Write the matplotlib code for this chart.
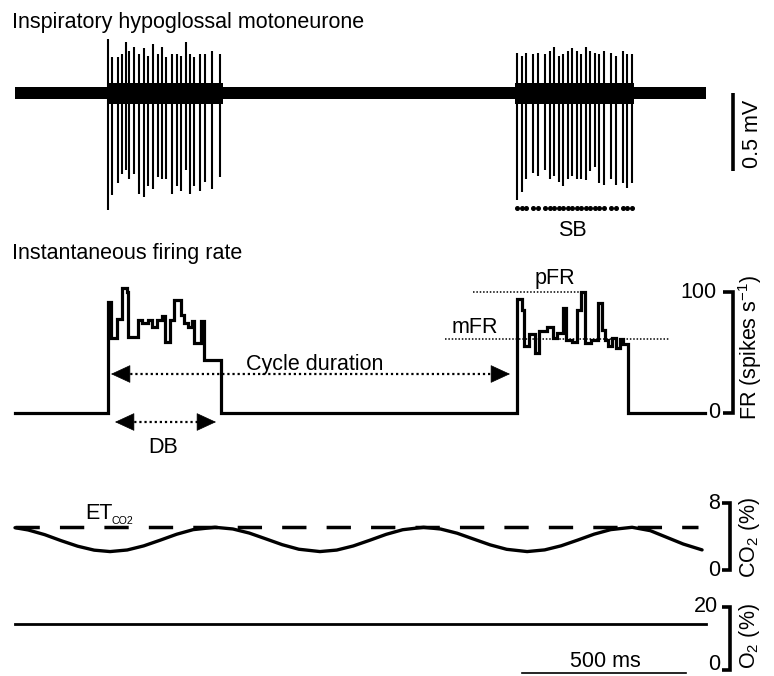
import matplotlib.pyplot as plt
import numpy as np

plt.rcParams['font.family'] = ['Liberation Sans', 'DejaVu Sans']
plt.rcParams['mathtext.fontset'] = 'custom'
plt.rcParams['mathtext.rm'] = 'Liberation Sans'
plt.rcParams['mathtext.it'] = 'Liberation Sans:italic'
FS = 15.5

# ---- raw hypoglossal recording (ms, mV) ----
spk1_t = [283, 295, 311, 323, 335, 345, 362, 376, 390, 404, 418, 432,
          446, 459, 477, 491, 503, 517, 529, 543, 562, 576, 596, 622]
spk1_up = [0.36, 0.24, 0.24, 0.26, 0.34, 0.28, 0.31, 0.26, 0.30, 0.25, 0.33, 0.26,
           0.31, 0.24, 0.26, 0.26, 0.25, 0.34, 0.26, 0.24, 0.26, 0.26, 0.28, 0.26]
spk1_dn = [-0.78, -0.68, -0.60, -0.54, -0.51, -0.57, -0.54, -0.67, -0.69, -0.62, -0.64, -0.56,
           -0.57, -0.57, -0.67, -0.62, -0.65, -0.51, -0.67, -0.62, -0.65, -0.59, -0.64, -0.56]
spk2_t = [1521, 1535, 1549, 1571, 1584, 1606, 1620, 1634, 1647, 1661, 1675, 1688,
          1702, 1716, 1730, 1743, 1757, 1771, 1785, 1806, 1820, 1842, 1856, 1869]
spk2_up = [0.27, 0.25, 0.27, 0.26, 0.27, 0.26, 0.28, 0.31, 0.25, 0.26, 0.28, 0.30,
           0.28, 0.26, 0.31, 0.28, 0.27, 0.26, 0.28, 0.27, 0.25, 0.28, 0.26, 0.26]
spk2_dn = [-0.71, -0.66, -0.57, -0.53, -0.55, -0.51, -0.57, -0.55, -0.59, -0.62, -0.57, -0.55,
           -0.57, -0.57, -0.58, -0.52, -0.49, -0.60, -0.61, -0.57, -0.61, -0.60, -0.63, -0.60]
noise_t = [0, 280, 630, 1515, 1875, 2094]
noise_w = [0.042, 0.07, 0.042, 0.07, 0.042, 0.042]

# ---- instantaneous firing rate (ms, spikes/s) ----
fr1_t = [283, 291, 308, 323, 338, 343, 374, 384, 404, 414, 429, 444,
         455, 470, 483, 503, 513, 523, 535, 543, 564, 574, 624]
fr1_v = [92, 62, 78, 103, 100, 63, 77, 74, 77, 71, 77, 80,
         59, 77, 93, 81, 74, 71, 76, 58, 76, 44, 0]
fr2_t = [1522, 1535, 1542, 1558, 1576, 1589, 1611, 1629, 1641, 1660, 1670, 1687,
         1703, 1715, 1727, 1745, 1766, 1778, 1788, 1798, 1808, 1821, 1833, 1843, 1858]
fr2_v = [94, 85, 55, 65, 50, 68, 71, 62, 66, 87, 60, 59,
         85, 100, 58, 60, 91, 69, 60, 55, 62, 54, 61, 57, 0]
fr_end = 2091
pfr = 100
mfr = 61

# ---- gases (ms, %) ----
co2_t = [0, 40, 90, 140, 190, 240, 288, 340, 390, 440, 490, 540, 606,
         660, 710, 760, 810, 860, 924, 975, 1025, 1075, 1125, 1175, 1238,
         1290, 1340, 1390, 1440, 1490, 1552, 1605, 1655, 1705, 1755, 1805, 1870,
         1925, 1975, 2025, 2082]
co2_v = [5.05, 4.78, 4.22, 3.50, 2.84, 2.37, 2.20, 2.39, 2.88, 3.56, 4.27, 4.82, 5.10,
         4.90, 4.41, 3.72, 3.02, 2.48, 2.20, 2.38, 2.87, 3.55, 4.26, 4.81, 5.10,
         4.89, 4.39, 3.69, 3.00, 2.47, 2.20, 2.40, 2.89, 3.57, 4.28, 4.82, 5.10,
         4.70, 3.90, 3.10, 2.40]
et_co2 = 5.1
o2_level = 14.7
trace_end = 2094

# ---- layout helpers (pixel -> data) ----
W, H = 774, 676
MS_PER_PX = 500 / 165.0
X0 = 15

fig = plt.figure(figsize=(W / 100, H / 100), dpi=100)


def t(px):
    return (px - X0) * MS_PER_PX


def panel(top, bot, va, pya, vb, pyb):
    ax = fig.add_axes([0, 1 - bot / H, 1, (bot - top) / H])
    ax.set_xlim(t(0), t(W))
    k = (vb - va) / (pya - pyb)
    ax.set_ylim(va - (bot - pya) * k, va + (pya - top) * k)
    ax.axis('off')
    return ax, k


def yv(py, va, pya, k):
    return va + (pya - py) * k


def ftext(px, py, s, **kw):
    kw.setdefault('fontsize', FS)
    fig.text(px / W, 1 - py / H, s, **kw)


def bracket(ax, xpx, lo, hi, tick=10):
    x, xt = t(xpx), t(xpx - tick)
    ax.plot([xt, x, x, xt], [hi, hi, lo, lo], color='k', lw=2.6,
            solid_joinstyle='miter', solid_capstyle='butt', clip_on=False)


def head(ax, tip, y, direction):
    ax.annotate('', xy=(tip, y), xytext=(tip + direction * 55, y),
                arrowprops=dict(arrowstyle='-|>,head_length=0.65,head_width=0.3',
                                mutation_scale=20, fc='k', ec='k', lw=0.5,
                                shrinkA=0, shrinkB=0))


# raw trace
ax1, k1 = panel(0, 240, 0, 93, 0.5, 18)
ax1.fill_between(noise_t, [-w for w in noise_w], noise_w, step='post', color='k', lw=0)
ax1.vlines(spk1_t, spk1_dn, spk1_up, color='k', lw=1.5)
ax1.vlines(spk2_t, spk2_dn, spk2_up, color='k', lw=1.5)
ax1.plot(spk2_t, [yv(208, 0, 93, k1)] * len(spk2_t), 'o', color='k', ms=2.6, clip_on=False)
ax1.text(t(572), yv(236, 0, 93, k1), 'SB', ha='center', va='baseline', fontsize=FS)
ax1.plot([t(733), t(733)], [0, -0.52], color='k', lw=2.6, solid_capstyle='butt')
ax1.text(t(753), -0.27, '0.5 mV', rotation=90, ha='center', va='center', fontsize=FS)
ftext(12, 28, 'Inspiratory hypoglossal motoneurone', va='baseline')

# firing rate
ax2, k2 = panel(240, 480, 0, 413, 100, 292)
fr_t = [0] + fr1_t + fr2_t + [fr_end]
fr_v = [0] + fr1_v + fr2_v + [0]
ax2.step(fr_t, fr_v, where='post', color='k', lw=2.3, solid_joinstyle='miter')
ax2.plot([t(473), t(582)], [pfr, pfr], color='k', lw=1.1, ls=(0, (1, 1.2)))
ax2.plot([t(445), t(670)], [mfr, mfr], color='k', lw=1.1, ls=(0, (1, 1.2)))
ax2.text(t(555), yv(284, 0, 413, k2), 'pFR', ha='center', va='baseline', fontsize=FS)
ax2.text(t(475), yv(333, 0, 413, k2), 'mFR', ha='center', va='baseline', fontsize=FS)

y_cyc = yv(374, 0, 413, k2)
ax2.plot([t(120), t(500)], [y_cyc, y_cyc], color='k', lw=1.6, ls=(0, (1, 1.3)))
head(ax2, t(111), y_cyc, 1)
head(ax2, t(510), y_cyc, -1)
ax2.text(t(315), yv(370, 0, 413, k2), 'Cycle duration', ha='center', va='baseline', fontsize=FS)

y_db = yv(422, 0, 413, k2)
ax2.plot([t(124), t(206)], [y_db, y_db], color='k', lw=1.6, ls=(0, (1, 1.3)))
head(ax2, t(115), y_db, 1)
head(ax2, t(216), y_db, -1)
ax2.text(t(163), yv(453, 0, 413, k2), 'DB', ha='center', va='baseline', fontsize=FS)

bracket(ax2, 733, 0, 100)
ax2.text(t(717), 100, '100', ha='right', va='center', fontsize=FS)
ax2.text(t(720), 0, '0', ha='right', va='center', fontsize=FS)
ax2.text(t(750), yv(347, 0, 413, k2), 'FR (spikes s$^{-1}$)', rotation=90,
         ha='center', va='center', fontsize=FS)
ftext(12, 259, 'Instantaneous firing rate', va='baseline')

# end-tidal CO2
ax3, k3 = panel(480, 585, 0, 570, 8, 503)
ax3.plot([0, t(698)], [et_co2, et_co2], color='k', lw=2.5, dashes=(7, 5.8))
ax3.plot(co2_t, co2_v, color='k', lw=2.4, solid_capstyle='round')
ax3.text(t(85), yv(519, 0, 570, k3), 'ET', ha='left', va='baseline', fontsize=FS)
ax3.text(t(112), yv(524, 0, 570, k3), 'CO2', ha='left', va='baseline', fontsize=7.7)
bracket(ax3, 730, 0, 8, tick=8)
ax3.text(t(720), 8, '8', ha='right', va='center', fontsize=FS)
ax3.text(t(720), 0, '0', ha='right', va='center', fontsize=FS)
ax3.text(t(750), yv(537, 0, 570, k3), 'CO$_{\\mathregular{2}}$ (%)', rotation=90,
         ha='center', va='center', fontsize=FS)

# O2
ax4, k4 = panel(585, 676, 0, 670, 20, 607)
ax4.plot([0, trace_end], [o2_level, o2_level], color='k', lw=2.0)
bracket(ax4, 730, 0, 20, tick=8)
ax4.text(t(718), 20, '20', ha='right', va='center', fontsize=FS)
ax4.text(t(720), yv(665, 0, 670, k4), '0', ha='right', va='center', fontsize=FS)
ax4.text(t(750), yv(636, 0, 670, k4), 'O$_{\\mathregular{2}}$ (%)', rotation=90,
         ha='center', va='center', fontsize=FS)
y_bar = yv(673, 0, 670, k4)
ax4.plot([t(522), t(686)], [y_bar, y_bar], color='k', lw=1.2, clip_on=False)
ax4.text(t(605), yv(667, 0, 670, k4), '500 ms', ha='center', va='baseline', fontsize=FS)

fig.savefig('out.png', dpi=100)
